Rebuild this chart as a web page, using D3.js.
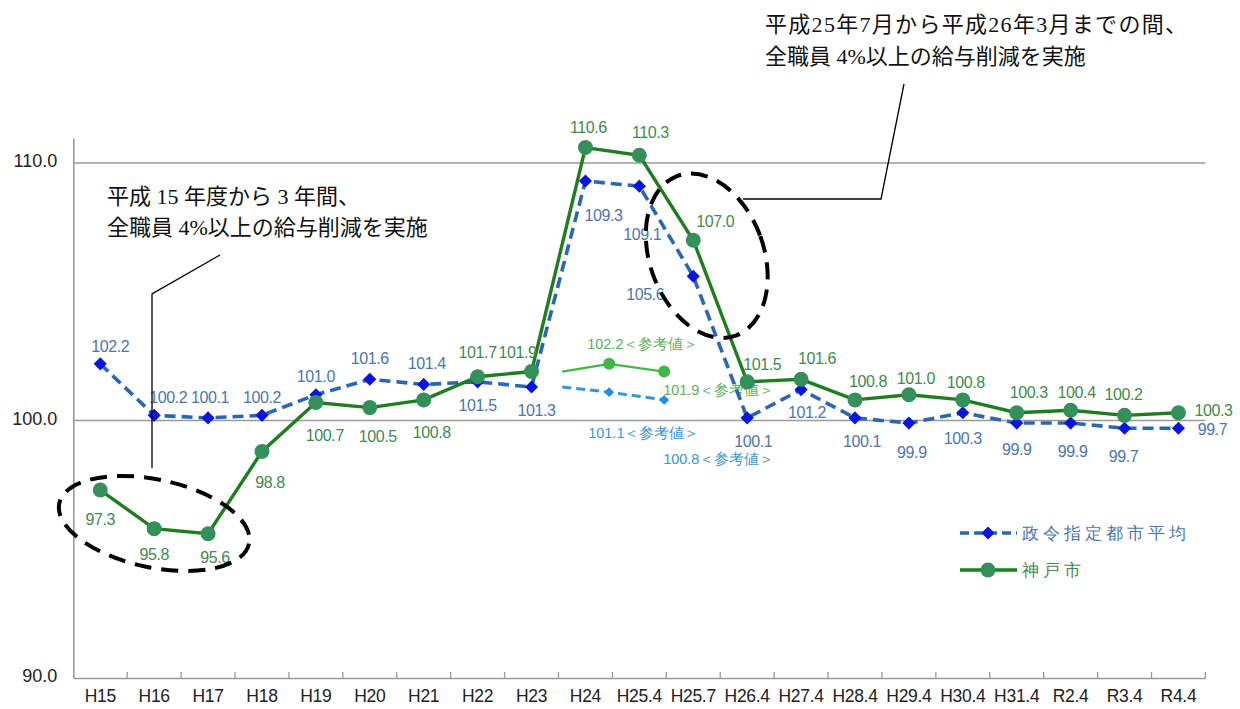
<!DOCTYPE html>
<html><head><meta charset="utf-8">
<script src="https://cdn.jsdelivr.net/npm/d3@7"></script>
<style>
html,body{margin:0;padding:0;background:#fff;}
svg{display:block;}
text{font-family:"Liberation Sans",Arial,sans-serif;}
.cjk{font-family:"Liberation Serif","Noto Sans CJK JP",serif;}
</style>
</head><body>
<svg id="c" width="1240" height="709"></svg>
<script>
const categories = ["H15","H16","H17","H18","H19","H20","H21","H22","H23","H24","H25.4","H25.7","H26.4","H27.4","H28.4","H29.4","H30.4","H31.4","R2.4","R3.4","R4.4"];
const cityAvg = [102.2,100.2,100.1,100.2,101.0,101.6,101.4,101.5,101.3,109.3,109.1,105.6,100.1,101.2,100.1,99.9,100.3,99.9,99.9,99.7,99.7];
const kobe = [97.3,95.8,95.6,98.8,100.7,100.5,100.8,101.7,101.9,110.6,110.3,107.0,101.5,101.6,100.8,101.0,100.8,100.3,100.4,100.2,100.3];
// reference values (参考値): positions in category-index units
const refPos = [8.57, 9.44, 10.46];
const refCityAvg = [101.3, 101.1, 100.8];
const refKobe = [101.9, 102.2, 101.9];
const yTicks = [90, 100, 110];
const gridValues = [100, 110];
const seriesNames = ["政令指定都市平均", "神戸市"];
const noteLeft = ["平成 15 年度から 3 年間、", "全職員 4%以上の給与削減を実施"];
const noteRight = ["平成25年7月から平成26年3月までの間、", "全職員 4%以上の給与削減を実施"];

// label offsets (layout, not data)
const blueOff = [[10,-17],[14,-18],[2,-20],[0,-18],[0,-18],[0,-21],[3,-21],[0,24],[5,23],[18,34],[3,48],[-48,18],[6,24],[6,23],[7,24],[3,29],[0,26],[0,26],[2,28],[-1,28],[34,1]];
const greenOff = [[0,29],[0,26],[7,24],[8,31],[9,33],[8,29],[8,33],[0,-24],[-14,-19],[3,-20],[11,-23],[22,-19],[15,-17],[16,-21],[13,-18],[7,-16],[3,-17],[12,-20],[6,-18],[-1,-21],[35,-2]];

const svg = d3.select("#c");
const pLeft = 73.3, pRight = 1205.4, pTop = 138, pBottom = 678;
const xBand = d3.scaleBand().domain(categories).range([pLeft, pRight]).paddingInner(0).paddingOuter(0);
const xi = d3.scaleLinear().domain([-0.5, categories.length - 0.5]).range([pLeft, pRight]);
const y = d3.scaleLinear().domain([90, 110.97]).range([pBottom, pTop]);

// gridlines
svg.append("g").selectAll("line").data(gridValues).join("line")
  .attr("x1", pLeft).attr("x2", pRight).attr("y1", d => y(d)).attr("y2", d => y(d))
  .attr("stroke", "#9a9a9a").attr("stroke-width", 1.6);

// y axis
const yAxis = svg.append("g").attr("transform", `translate(${pLeft},0)`)
  .call(d3.axisLeft(y).tickValues(yTicks).tickFormat(d3.format(".1f")).tickSize(0).tickPadding(16));
yAxis.select(".domain").attr("stroke", "#9a9a9a").attr("stroke-width", 1.6);
yAxis.selectAll("text").attr("font-size", 18).attr("fill", "#222").attr("dy", "0.2em");

// x axis
const xAxis = svg.append("g").attr("transform", `translate(0,${pBottom})`)
  .call(d3.axisBottom(xBand).tickSize(0).tickPadding(12));
xAxis.select(".domain").attr("stroke", "#9a9a9a").attr("stroke-width", 1.6);
xAxis.selectAll("text").attr("font-size", 17.5).attr("fill", "#222").attr("letter-spacing", -0.3);
// boundary tick marks (pointing up)
const bounds = categories.map(c => xBand(c)).concat([xBand(categories[categories.length-1]) + xBand.bandwidth()]).slice(1);
svg.append("g").selectAll("line").data(bounds).join("line")
  .attr("x1", d => d).attr("x2", d => d).attr("y1", pBottom).attr("y2", pBottom - 6)
  .attr("stroke", "#9a9a9a").attr("stroke-width", 1.3);

const cx = i => xBand(categories[i]) + xBand.bandwidth() / 2;

// reference series
const refLine = d3.line().x((d, i) => xi(refPos[i])).y(d => y(d));
svg.append("path").datum(refKobe).attr("d", refLine).attr("fill", "none")
  .attr("stroke", "#40b845").attr("stroke-width", 2.2);
svg.append("path").datum(refCityAvg).attr("d", refLine).attr("fill", "none")
  .attr("stroke", "#2a9ae0").attr("stroke-width", 3).attr("stroke-dasharray", "9,5");
svg.append("g").selectAll("circle").data(refKobe.slice(1)).join("circle")
  .attr("cx", (d, i) => xi(refPos[i+1])).attr("cy", d => y(d)).attr("r", 6).attr("fill", "#40b845");
svg.append("g").selectAll("path").data(refCityAvg.slice(1)).join("path")
  .attr("d", d3.symbol(d3.symbolDiamond2, 60)())
  .attr("transform", (d, i) => `translate(${xi(refPos[i+1])},${y(d)})`)
  .attr("fill", "#1e8fe6");
const refKobeOff = [[-22,-20],[-1,18]];
const refCityOff = [[-21,41],[-1,59]];
svg.append("g").selectAll("text").data(refKobe.slice(1)).join("text")
  .attr("x", (d, i) => xi(refPos[i+1]) + refKobeOff[i][0]).attr("y", (d, i) => y(d) + refKobeOff[i][1])
  .attr("dominant-baseline", "central").attr("font-size", 14.5).attr("fill", "#5cb05c")
  .text(d => d.toFixed(1) + "＜参考値＞");
svg.append("g").selectAll("text").data(refCityAvg.slice(1)).join("text")
  .attr("x", (d, i) => xi(refPos[i+1]) + refCityOff[i][0]).attr("y", (d, i) => y(d) + refCityOff[i][1])
  .attr("dominant-baseline", "central").attr("font-size", 14.5).attr("fill", "#3d94d0")
  .text(d => d.toFixed(1) + "＜参考値＞");

// main lines
const line = d3.line().x((d, i) => cx(i)).y(d => y(d));
svg.append("path").datum(cityAvg).attr("d", line).attr("fill", "none")
  .attr("stroke", "#2a66b8").attr("stroke-width", 3.6).attr("stroke-dasharray", "11,6");
svg.append("path").datum(kobe).attr("d", line).attr("fill", "none")
  .attr("stroke", "#1e7e1e").attr("stroke-width", 3.4);

// markers
svg.append("g").selectAll("path").data(cityAvg).join("path")
  .attr("d", d3.symbol(d3.symbolDiamond2, 110)())
  .attr("transform", (d, i) => `translate(${cx(i)},${y(d)})`)
  .attr("fill", "#0a14e0");
svg.append("g").selectAll("circle").data(kobe).join("circle")
  .attr("cx", (d, i) => cx(i)).attr("cy", d => y(d)).attr("r", 7.5).attr("fill", "#33905a");

// data labels
svg.append("g").selectAll("text").data(cityAvg).join("text")
  .attr("x", (d, i) => cx(i) + blueOff[i][0]).attr("y", (d, i) => y(d) + blueOff[i][1])
  .attr("text-anchor", "middle").attr("dominant-baseline", "central")
  .attr("font-size", 16).attr("letter-spacing", -0.4).attr("fill", "#4a76ad")
  .text(d => d.toFixed(1));
svg.append("g").selectAll("text").data(kobe).join("text")
  .attr("x", (d, i) => cx(i) + greenOff[i][0]).attr("y", (d, i) => y(d) + greenOff[i][1])
  .attr("text-anchor", "middle").attr("dominant-baseline", "central")
  .attr("font-size", 16).attr("letter-spacing", -0.4).attr("fill", "#3f8a4e")
  .text(d => d.toFixed(1));

// legend
const lg = svg.append("g");
const lgY = [533, 570];
lg.append("line").attr("x1", 960).attr("x2", 1017).attr("y1", lgY[0]).attr("y2", lgY[0])
  .attr("stroke", "#2a66b8").attr("stroke-width", 3.6).attr("stroke-dasharray", "9,5");
lg.append("path").attr("d", d3.symbol(d3.symbolDiamond2, 110)()).attr("transform", `translate(988,${lgY[0]})`).attr("fill", "#0a14e0");
lg.append("line").attr("x1", 960).attr("x2", 1017).attr("y1", lgY[1]).attr("y2", lgY[1])
  .attr("stroke", "#1e7e1e").attr("stroke-width", 3.4);
lg.append("circle").attr("cx", 988).attr("cy", lgY[1]).attr("r", 7.5).attr("fill", "#33905a");
lg.selectAll("text").data(seriesNames).join("text")
  .attr("x", 1022).attr("y", (d, i) => lgY[i]).attr("dominant-baseline", "central")
  .attr("font-family", "'Noto Sans CJK JP',sans-serif").attr("font-size", 17).attr("letter-spacing", 4)
  .attr("fill", (d, i) => i ? "#3f8a4e" : "#4a76ad").text(d => d);

// annotations: ellipses
svg.append("ellipse").attr("cx", cx(1)).attr("cy", y(96.0)).attr("rx", 97).attr("ry", 44)
  .attr("transform", `rotate(12,${cx(1)},${y(96.0)})`)
  .attr("fill", "none").attr("stroke", "#000").attr("stroke-width", 4).attr("stroke-dasharray", "17,10");
const ecx = xi(11.25), ecy = y(106.4);
svg.append("ellipse").attr("cx", ecx).attr("cy", ecy).attr("rx", 57).attr("ry", 85)
  .attr("transform", `rotate(-20,${ecx},${ecy})`)
  .attr("fill", "none").attr("stroke", "#000").attr("stroke-width", 4).attr("stroke-dasharray", "17,10");

// leader lines
svg.append("polyline").attr("points", `220,255 152,294 152,468`).attr("fill", "none").attr("stroke", "#000").attr("stroke-width", 1.3);
svg.append("polyline").attr("points", `904,84 881,199 743,199`).attr("fill", "none").attr("stroke", "#000").attr("stroke-width", 1.3);

// annotation text
svg.append("g").selectAll("text").data(noteLeft).join("text").attr("class", "cjk")
  .attr("x", 107).attr("y", (d, i) => 204 + i * 31).attr("font-size", 22).attr("fill", "#111").text(d => d);
svg.append("g").selectAll("text").data(noteRight).join("text").attr("class", "cjk")
  .attr("x", 765).attr("y", (d, i) => 32 + i * 32).attr("font-size", 22)
  .attr("letter-spacing", (d, i) => i ? 0 : 1.3).attr("fill", "#111").text(d => d);
</script>
</body></html>
